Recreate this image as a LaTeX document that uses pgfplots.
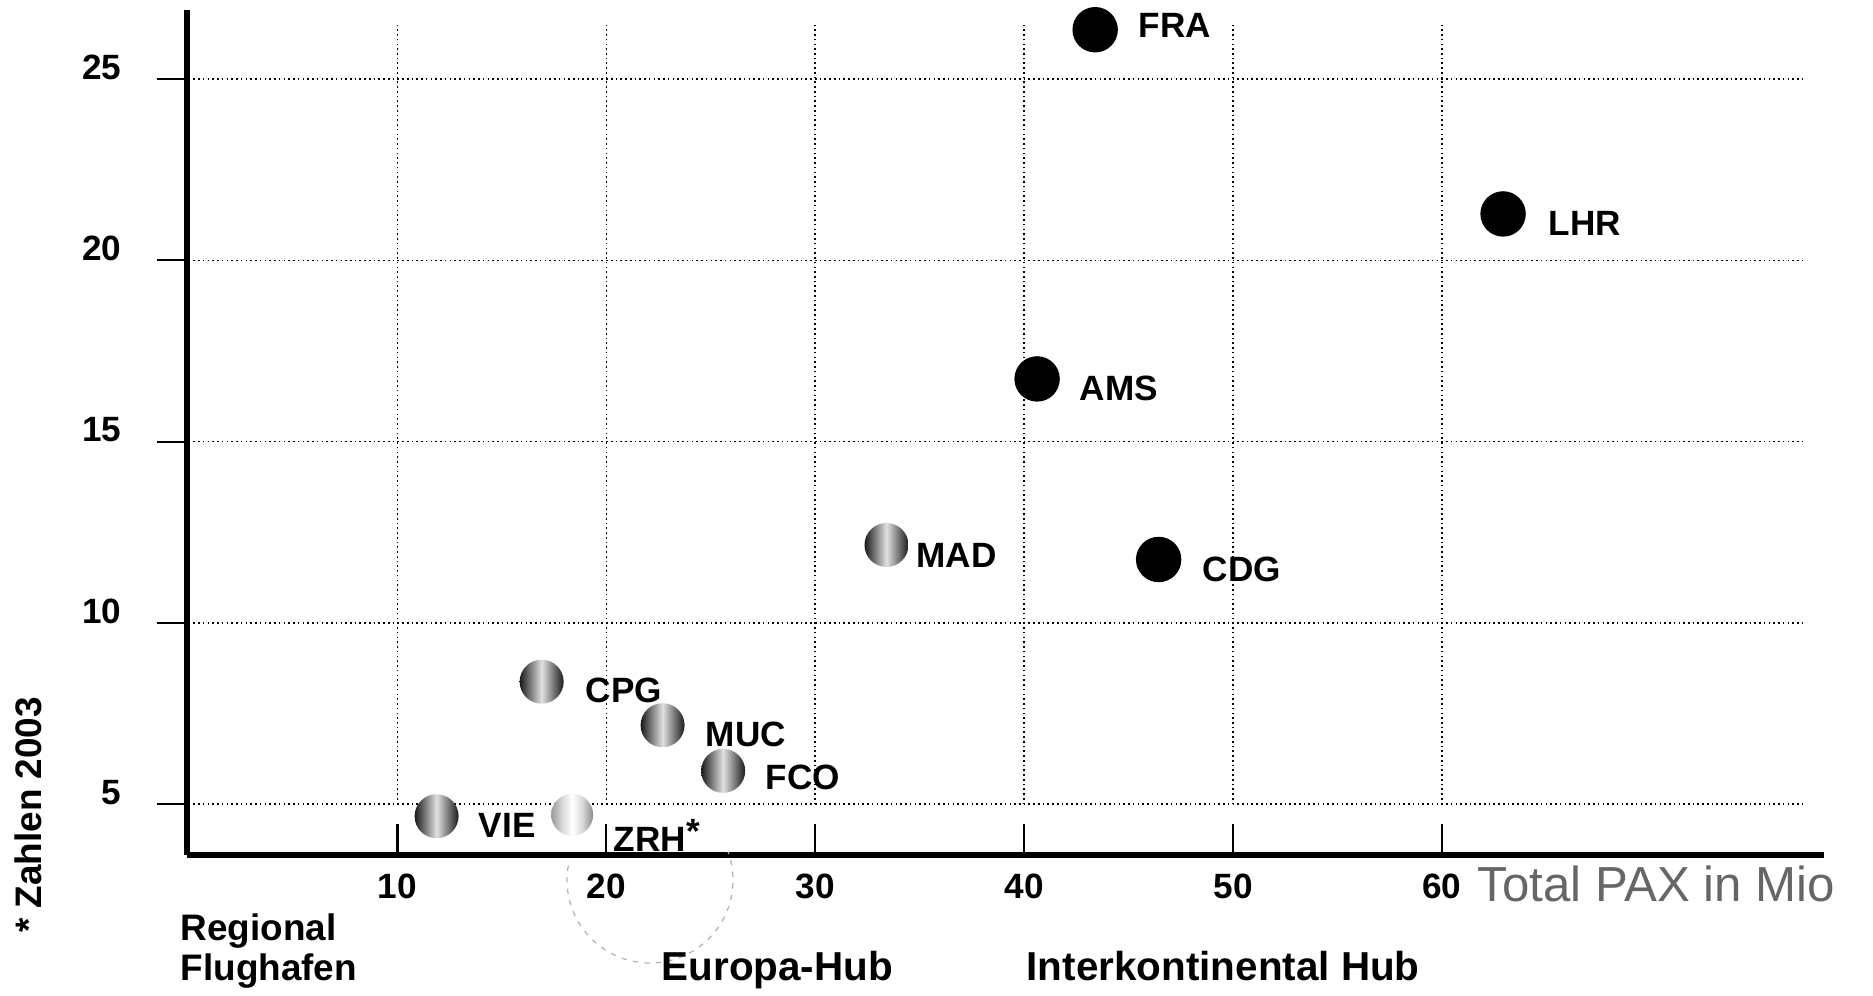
\documentclass[border=0pt]{standalone}
\usepackage{fontspec}
\setmainfont{Liberation Sans}
\usepackage{pgfplots}
\usepackage{pgfplotstable}
\pgfplotsset{compat=1.18}

% shaded markers (dark edges, light middle)
\pgfdeclarehorizontalshading{grayhub}{100bp}{color(0bp)=(black!90); color(25bp)=(black!90); color(36bp)=(black!55); color(50bp)=(black!12); color(64bp)=(black!55); color(75bp)=(black!90); color(100bp)=(black!90)}
\pgfdeclarehorizontalshading{lighthub}{100bp}{color(0bp)=(black!40); color(25bp)=(black!40); color(38bp)=(black!15); color(50bp)=(white); color(62bp)=(black!15); color(75bp)=(black!45); color(100bp)=(black!45)}
\pgfdeclareplotmark{grayhub}{\pgfpathcircle{\pgfpointorigin}{\pgfplotmarksize}\pgfshadepath{grayhub}{0}\pgfusepath{}}
\pgfdeclareplotmark{lighthub}{\pgfpathcircle{\pgfpointorigin}{\pgfplotmarksize}\pgfshadepath{lighthub}{0}\pgfusepath{}}

\tikzset{gridline/.style={black, line width=0.45pt, dash pattern=on 0.45pt off 0.9pt}}

% x: total PAX (Mio), y: second measure, up: label offset upwards (0.1mm)
\pgfplotstableread{
x     y     dx    up    name
43.40 26.36 43.0   4.5  FRA
62.93 21.28 45.0  -9.5  LHR
40.62 16.73 42.0  -9.5  AMS
46.44 11.75 43.5 -10.0  CDG
}\interkont
\pgfplotstableread{
x     y     dx    up    name
33.41 12.15 29.5 -10.0  MAD
16.90  8.38 43.5  -8.5  CPG
22.69  7.18 42.5  -9.5  MUC
25.59  5.92 42.0  -7.0  FCO
11.87  4.67 41.5  -9.5  VIE
}\europa

\begin{document}
\begin{tikzpicture}
\useasboundingbox (-18.7mm,-14mm) rectangle (168.6mm,85.5mm);
\begin{axis}[
  scale only axis, width=163.71mm, height=84.52mm,
  xmin=-0.08, xmax=78.3, ymin=3.6, ymax=26.91,
  axis lines*=left,
  axis line style={line width=1.6pt, black},
  xtick={10,20,...,60}, ytick={5,10,...,25},
  major tick length=0pt, tick style={draw=none},
  /pgf/number format/assume math mode=true,
  ticklabel style={font=\bfseries, inner sep=0pt},
  xticklabel style={anchor=north, yshift=-1.8mm},
  yticklabel style={anchor=east, xshift=-6.5mm, yshift=1.2mm},
  clip=false,
]
\pgfplotsinvokeforeach{5,10,...,25}{
  \draw[gridline] (axis cs:0,#1) -- (axis cs:77.44,#1);
  \draw[line width=0.6pt] (axis cs:-0.08,#1) -- (axis cs:-1.52,#1);
}
\pgfplotsinvokeforeach{10,20,...,60}{
  \draw[gridline] (axis cs:#1,5) -- (axis cs:#1,26.55);
  \draw[line width=0.6pt] (axis cs:#1,3.6) -- (axis cs:#1,4.46);
}

\addplot[only marks, mark=*, mark size=2.2mm, mark options={fill=black, draw=black},
  nodes near coords, point meta=explicit symbolic,
  visualization depends on={\thisrow{dx}\as\dx},
  visualization depends on={\thisrow{up}\as\up},
  nodes near coords style={anchor=west, inner sep=0pt, font=\bfseries, text=black,
    xshift=\dx*0.1mm, yshift=\up*0.1mm}]
  table[x=x, y=y, meta=name] {\interkont};

\addplot[only marks, mark=grayhub, mark size=2.2mm,
  nodes near coords, point meta=explicit symbolic,
  visualization depends on={\thisrow{dx}\as\dx},
  visualization depends on={\thisrow{up}\as\up},
  nodes near coords style={anchor=west, inner sep=0pt, font=\bfseries, text=black,
    xshift=\dx*0.1mm, yshift=\up*0.1mm}]
  table[x=x, y=y, meta=name] {\europa};

\addplot[only marks, mark=lighthub, mark size=2.1mm,
  nodes near coords={ZRH\raisebox{0.8mm}{*}},
  nodes near coords style={anchor=base west, inner sep=0pt, font=\bfseries, text=black,
    xshift=4.1mm, yshift=-3.7mm}]
  coordinates {(18.36,4.71)};
\end{axis}

\draw[black!30, line width=0.35pt, dash pattern=on 1.5pt off 1.8pt]
  (38.13mm,-1.06mm) arc[start angle=170, end angle=380, radius=8.3mm];

\node[anchor=base west, inner sep=0pt, font=\bfseries\fontsize{10.5}{12}\selectfont] at (-0.7mm,-8.5mm) {Regional};
\node[anchor=base west, inner sep=0pt, font=\bfseries\fontsize{10.5}{12}\selectfont] at (-0.7mm,-12.5mm) {Flughafen};
\node[anchor=base west, inner sep=0pt, font=\bfseries\fontsize{11.5}{13}\selectfont] at (47.4mm,-12.5mm) {Europa-Hub};
\node[anchor=base west, inner sep=0pt, font=\bfseries\fontsize{11.5}{13}\selectfont] at (83.9mm,-12.5mm) {Interkontinental Hub};
\node[anchor=base west, inner sep=0pt, font=\fontsize{14}{16}\selectfont, text=black!60] at (129.0mm,-4.6mm) {Total PAX in Mio};
\node[rotate=90, anchor=base, inner sep=0pt, font=\bfseries\fontsize{10.5}{12}\selectfont] at (-14.5mm,4.0mm) {* Zahlen 2003};
\end{tikzpicture}
\end{document}
